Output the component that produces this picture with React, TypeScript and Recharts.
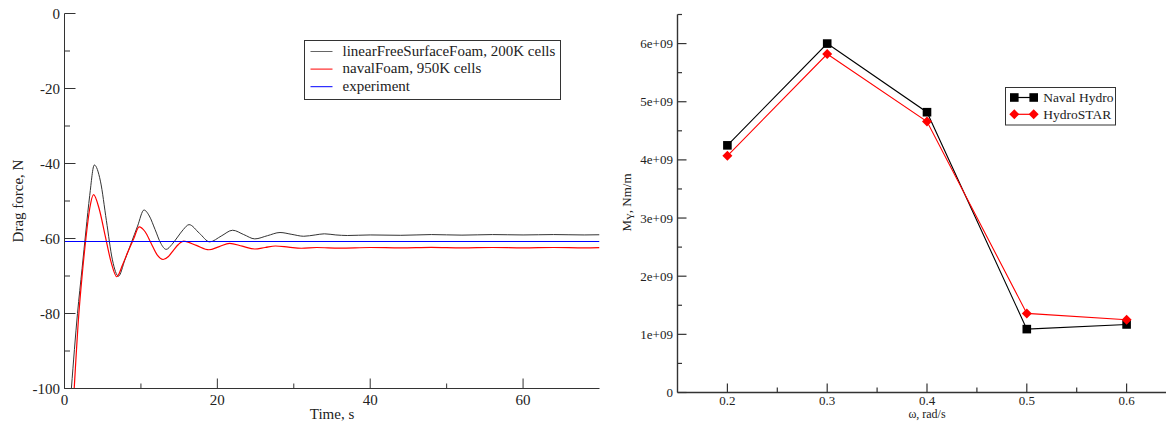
import React from 'react';
import { LineChart, Line, XAxis, YAxis, Legend } from 'recharts';

const FONT = '"Liberation Serif", "Times New Roman", serif';
const INK = '#222';

// ---------- Left panel: drag force vs time ----------
const blackTime = [0, 0.9, 1.7, 2.3, 2.8, 3.3, 3.9, 4.7, 5.48, 6.27, 7.06, 7.9, 8.73, 9.56, 10.4, 11.1, 11.85, 12.6, 13.3, 14.05, 14.8, 15.55, 16.3, 17.65, 19.0, 20.5, 22.0, 23.45, 24.9, 26.55, 28.2, 29.75, 31.3, 32.8, 34.0, 35.5, 37, 40, 44, 48, 52, 56, 60, 64, 68, 70];
const blackForce = [-125, -100, -80, -68, -58, -48.5, -40.4, -44.7, -55.2, -65.7, -70.05, -65.7, -61.2, -56.7, -52.4, -54.0, -57.6, -61.3, -62.9, -61.6, -59.6, -57.6, -56.3, -58.6, -60.9, -59.35, -57.8, -58.95, -60.1, -59.25, -58.4, -58.9, -59.4, -59.05, -58.75, -59.05, -59.2, -59.05, -59.15, -58.95, -59.1, -58.95, -59.05, -58.95, -59.05, -59.0];

const redTime = [0, 1.27, 1.88, 2.3, 2.8, 3.3, 3.8, 4.55, 5.32, 6.1, 6.85, 7.6, 8.3, 9.05, 9.76, 10.55, 11.33, 12.1, 12.9, 13.6, 14.25, 14.9, 15.6, 17.25, 18.9, 20.25, 21.6, 23.25, 24.9, 26.25, 27.6, 29.3, 31.0, 33, 36, 40, 44, 48, 52, 56, 60, 64, 68, 70];
const redForce = [-150, -100, -80, -70, -60, -52, -48.3, -52.2, -59.25, -66.3, -70.2, -67.0, -63.55, -60.1, -56.9, -58.2, -61.25, -64.3, -65.6, -64.8, -63.15, -61.6, -60.7, -61.85, -63.0, -62.15, -61.3, -62.05, -62.8, -62.4, -62.0, -62.3, -62.6, -62.4, -62.55, -62.4, -62.5, -62.35, -62.5, -62.4, -62.5, -62.4, -62.5, -62.45];

const expTime = [0, 70];
const expForce = [-60.8, -60.8];

const leftNames = ['linearFreeSurfaceFoam, 200K cells', 'navalFoam, 950K cells', 'experiment'];
const leftColors = ['#333333', '#ff0000', '#0000ff'];
const leftLegendSwatch = ['#666666', '#ff0000', '#0000ff'];

const leftXTicks = [0, 10, 20, 30, 40, 50, 60];
const leftXMajor = [0, 20, 40, 60];
const leftXLabels = ['0', '20', '40', '60'];
const leftYTicks = [-100, -90, -80, -70, -60, -50, -40, -30, -20, -10, 0];
const leftYMajor = [-100, -80, -60, -40, -20, 0];
const leftYLabels = ['-100', '-80', '-60', '-40', '-20', '0'];

// ---------- Right panel: M_Y vs omega ----------
const omega = [0.2, 0.3, 0.4, 0.5, 0.6];
const navalHydro = [4.25e9, 6.0e9, 4.82e9, 1.09e9, 1.17e9];
const hydroStar = [4.07e9, 5.82e9, 4.66e9, 1.36e9, 1.25e9];
const rightNames = ['Naval Hydro', 'HydroSTAR'];

const rightXTicks = [0.2, 0.25, 0.3, 0.35, 0.4, 0.45, 0.5, 0.55, 0.6, 0.65];
const rightXMajor = [0.2, 0.3, 0.4, 0.5, 0.6];
const rightXLabels = ['0.2', '0.3', '0.4', '0.5', '0.6'];
const rightYTicks = [0, 0.5e9, 1e9, 1.5e9, 2e9, 2.5e9, 3e9, 3.5e9, 4e9, 4.5e9, 5e9, 5.5e9, 6e9, 6.5e9];
const rightYMajor = [0, 1e9, 2e9, 3e9, 4e9, 5e9, 6e9];
const rightYLabels = ['0', '1e+09', '2e+09', '3e+09', '4e+09', '5e+09', '6e+09'];

const blackData = blackTime.map((t, i) => ({ t, f: blackForce[i] }));
const redData = redTime.map((t, i) => ({ t, f: redForce[i] }));
const expData = expTime.map((t, i) => ({ t, f: expForce[i] }));
const rightData = omega.map((w, i) => ({ w, naval: navalHydro[i], hydro: hydroStar[i] }));

type Side = 'bottom' | 'left' | 'top' | 'right';
interface TickCfg {
  side: Side;
  majors: number[];
  labels?: string[];
  majorLen: number;
  minorLen: number;
  fontSize: number;
  offset: number;
  shift: number;
  color: string;
  width: number;
}

const findIdx = (arr: number[], v: number) =>
  arr.findIndex((a) => Math.abs(a - v) <= 1e-9 * Math.max(1, Math.abs(a)));

function makeTick(cfg: TickCfg) {
  return (props: any) => {
    const { x, y, payload, index } = props;
    const idx = findIdx(cfg.majors, payload.value);
    const major = idx >= 0;
    const len = major ? cfg.majorLen : cfg.minorLen;
    const label = major && cfg.labels ? cfg.labels[idx] : null;
    const st = { stroke: cfg.color, strokeWidth: cfg.width };
    let ln: any = null;
    let tx: any = null;
    if (cfg.side === 'bottom') {
      ln = <line x1={x} y1={y} x2={x} y2={y - len} {...st} />;
      if (label !== null)
        tx = (
          <text x={x} y={y + cfg.offset} textAnchor="middle" fontFamily={FONT} fontSize={cfg.fontSize} fill={INK}>
            {label}
          </text>
        );
    } else if (cfg.side === 'top') {
      ln = <line x1={x} y1={y} x2={x} y2={y + len} {...st} />;
    } else if (cfg.side === 'left') {
      ln = <line x1={x} y1={y} x2={x + len} y2={y} {...st} />;
      if (label !== null)
        tx = (
          <text x={x - cfg.offset} y={y + cfg.shift} textAnchor="end" fontFamily={FONT} fontSize={cfg.fontSize} fill={INK}>
            {label}
          </text>
        );
    } else {
      ln = <line x1={x} y1={y} x2={x - len} y2={y} {...st} />;
    }
    return (
      <g key={`${cfg.side}-${index}`}>
        {ln}
        {tx}
      </g>
    );
  };
}

const LeftLegend = () => (
  <svg width={258} height={61} style={{ display: 'block' }}>
    <rect x={0.5} y={0.5} width={256} height={59} fill="#fff" stroke="#333" strokeWidth={1} />
    {leftNames.map((n, i) => (
      <g key={n}>
        <line x1={6.5} x2={28.5} y1={11.5 + i * 17.6} y2={11.5 + i * 17.6} stroke={leftLegendSwatch[i]} strokeWidth={1} />
        <text x={38.5} y={15.7 + i * 17.4} fontFamily={FONT} fontSize={15} fill={INK}>
          {n}
        </text>
      </g>
    ))}
  </svg>
);

const RightLegend = () => (
  <svg width={112} height={39} style={{ display: 'block' }}>
    <rect x={0.5} y={0.5} width={110} height={37.5} fill="#fff" stroke="#333" strokeWidth={1} />
    {rightNames.map((n, i) => {
      const cy = 10.5 + i * 16.8;
      const c = i === 0 ? '#000' : '#ff0000';
      const mk = (cx: number) =>
        i === 0 ? (
          <rect x={cx - 4.3} y={cy - 4.3} width={8.6} height={8.6} fill="#000" />
        ) : (
          <polygon points={`${cx},${cy - 5} ${cx + 5},${cy} ${cx},${cy + 5} ${cx - 5},${cy}`} fill="#ff0000" />
        );
      return (
        <g key={n}>
          <line x1={9.3} x2={28.7} y1={cy} y2={cy} stroke={c} strokeWidth={1.2} />
          {mk(9.3)}
          {mk(28.7)}
          <text x={38.3} y={cy + 4.3} fontFamily={FONT} fontSize={13.5} fill={INK}>
            {n}
          </text>
        </g>
      );
    })}
  </svg>
);

const SquareDot = (p: any) => (
  <rect key={`sq-${p.index}`} x={p.cx - 4.3} y={p.cy - 4.3} width={8.6} height={8.6} fill="#000" />
);
const DiamondDot = (p: any) => (
  <polygon
    key={`dm-${p.index}`}
    points={`${p.cx},${p.cy - 5} ${p.cx + 5},${p.cy} ${p.cx},${p.cy + 5} ${p.cx - 5},${p.cy}`}
    fill="#ff0000"
  />
);

export default function App() {
  const lc = '#333';
  return (
    <div
      style={{
        position: 'fixed',
        left: 0,
        top: 0,
        width: 1166,
        height: 421,
        overflow: 'hidden',
        background: '#fff',
      }}
    >
      {/* Left chart */}
      <div style={{ position: 'absolute', left: 0, top: 0 }}>
        <LineChart width={600} height={421} margin={{ top: 13.5, right: 0.5, bottom: 0.5, left: 0.5 }}>
          <XAxis
            xAxisId="b"
            type="number"
            dataKey="t"
            domain={[0, 70]}
            allowDataOverflow
            ticks={leftXTicks}
            interval={0}
            height={32}
            tickSize={0}
            tickMargin={0}
            tickLine={false}
            axisLine={{ stroke: lc, strokeWidth: 1 }}
            tick={makeTick({ side: 'bottom', majors: leftXMajor, labels: leftXLabels, majorLen: 10, minorLen: 5, fontSize: 15, offset: 16.5, shift: 0, color: lc, width: 1 })}
            label={(p: any) => {
              const vb = p.viewBox;
              return (
                <text x={vb.x + vb.width / 2} y={vb.y + 30} textAnchor="middle" fontFamily={FONT} fontSize={15} fill={INK}>
                  Time, s
                </text>
              );
            }}
          />
          <XAxis
            xAxisId="t"
            orientation="top"
            type="number"
            dataKey="t"
            domain={[0, 70]}
            allowDataOverflow
            ticks={leftXTicks}
            interval={0}
            height={0}
            tickSize={0}
            tickMargin={0}
            tickLine={false}
            axisLine={{ stroke: lc, strokeWidth: 1 }}
            tick={makeTick({ side: 'top', majors: leftXMajor, majorLen: 10, minorLen: 5, fontSize: 15, offset: 0, shift: 0, color: lc, width: 1 })}
          />
          <YAxis
            yAxisId="l"
            type="number"
            domain={[-100, 0]}
            allowDataOverflow
            ticks={leftYTicks}
            interval={0}
            width={64}
            tickSize={0}
            tickMargin={0}
            tickLine={false}
            axisLine={{ stroke: lc, strokeWidth: 1 }}
            tick={makeTick({ side: 'left', majors: leftYMajor, labels: leftYLabels, majorLen: 11, minorLen: 5.5, fontSize: 15, offset: 4.5, shift: 5.2, color: lc, width: 1 })}
            label={(p: any) => {
              const vb = p.viewBox;
              const cx = 23;
              const cy = vb.y + vb.height / 2;
              return (
                <text x={cx} y={cy} transform={`rotate(-90, ${cx}, ${cy})`} textAnchor="middle" fontFamily={FONT} fontSize={15} fill={INK}>
                  Drag force, N
                </text>
              );
            }}
          />
          <YAxis
            yAxisId="r"
            orientation="right"
            type="number"
            domain={[-100, 0]}
            allowDataOverflow
            ticks={leftYTicks}
            interval={0}
            width={0}
            tickSize={0}
            tickMargin={0}
            tickLine={false}
            axisLine={{ stroke: lc, strokeWidth: 1 }}
            tick={makeTick({ side: 'right', majors: leftYMajor, majorLen: 11, minorLen: 5.5, fontSize: 15, offset: 0, shift: 0, color: lc, width: 1 })}
          />
          <Line xAxisId="t" yAxisId="r" data={blackData} dataKey="f" stroke="none" dot={false} activeDot={false} legendType="none" isAnimationActive={false} />
          <Line xAxisId="b" yAxisId="l" data={blackData} dataKey="f" name={leftNames[0]} type="monotone" stroke={leftColors[0]} strokeWidth={1} dot={false} activeDot={false} isAnimationActive={false} />
          <Line xAxisId="b" yAxisId="l" data={redData} dataKey="f" name={leftNames[1]} type="monotone" stroke={leftColors[1]} strokeWidth={1.2} dot={false} activeDot={false} isAnimationActive={false} />
          <Line xAxisId="b" yAxisId="l" data={expData} dataKey="f" name={leftNames[2]} type="linear" stroke={leftColors[2]} strokeWidth={1} dot={false} activeDot={false} isAnimationActive={false} />
          <Legend
            layout="horizontal"
            verticalAlign="middle"
            align="center"
            content={() => <LeftLegend />}
            wrapperStyle={{ position: 'absolute', left: 304, top: 40, width: 258, height: 61 }}
          />
        </LineChart>
      </div>

      {/* Right chart */}
      <div style={{ position: 'absolute', left: 600, top: 0 }}>
        <LineChart width={600} height={421} data={rightData} margin={{ top: 14.5, right: 23.5, bottom: 0.5, left: 0.5 }}>
          <XAxis
            xAxisId="b"
            type="number"
            dataKey="w"
            domain={[0.15, 0.65]}
            allowDataOverflow
            ticks={rightXTicks}
            interval={0}
            height={28}
            tickSize={0}
            tickMargin={0}
            tickLine={false}
            axisLine={{ stroke: lc, strokeWidth: 1.4 }}
            tick={makeTick({ side: 'bottom', majors: rightXMajor, labels: rightXLabels, majorLen: 9, minorLen: 5, fontSize: 13, offset: 12.2, shift: 0, color: lc, width: 1.2 })}
            label={(p: any) => {
              const vb = p.viewBox;
              return (
                <text x={vb.x + vb.width / 2} y={vb.y + 25.6} textAnchor="middle" fontFamily={FONT} fontSize={12} fill={INK}>
                  ω, rad/s
                </text>
              );
            }}
          />
          <XAxis
            xAxisId="t"
            orientation="top"
            type="number"
            dataKey="w"
            domain={[0.15, 0.65]}
            allowDataOverflow
            ticks={rightXTicks}
            interval={0}
            height={0}
            tickSize={0}
            tickMargin={0}
            tickLine={false}
            axisLine={{ stroke: lc, strokeWidth: 1.4 }}
            tick={makeTick({ side: 'top', majors: rightXMajor, majorLen: 9, minorLen: 5, fontSize: 13, offset: 0, shift: 0, color: lc, width: 1.2 })}
          />
          <YAxis
            yAxisId="l"
            type="number"
            domain={[0, 6.5e9]}
            allowDataOverflow
            ticks={rightYTicks}
            interval={0}
            width={77}
            tickSize={0}
            tickMargin={0}
            tickLine={false}
            axisLine={{ stroke: lc, strokeWidth: 1.4 }}
            tick={makeTick({ side: 'left', majors: rightYMajor, labels: rightYLabels, majorLen: 9, minorLen: 4.5, fontSize: 13, offset: 4.6, shift: 4.5, color: lc, width: 1.2 })}
            label={(p: any) => {
              const vb = p.viewBox;
              const cx = 31;
              const cy = vb.y + vb.height / 2 - 1;
              return (
                <text x={cx} y={cy} transform={`rotate(-90, ${cx}, ${cy})`} textAnchor="middle" fontFamily={FONT} fontSize={13} fill={INK}>
                  M
                  <tspan dy={3} fontSize={9.5}>Y</tspan>
                  <tspan dy={-3}>, Nm/m</tspan>
                </text>
              );
            }}
          />
          <YAxis
            yAxisId="r"
            orientation="right"
            type="number"
            domain={[0, 6.5e9]}
            allowDataOverflow
            ticks={rightYTicks}
            interval={0}
            width={0}
            tickSize={0}
            tickMargin={0}
            tickLine={false}
            axisLine={{ stroke: lc, strokeWidth: 1.4 }}
            tick={makeTick({ side: 'right', majors: rightYMajor, majorLen: 9, minorLen: 4.5, fontSize: 13, offset: 0, shift: 0, color: lc, width: 1.2 })}
          />
          <Line xAxisId="t" yAxisId="r" dataKey="naval" stroke="none" dot={false} activeDot={false} legendType="none" isAnimationActive={false} />
          <Line xAxisId="b" yAxisId="l" dataKey="naval" name={rightNames[0]} type="linear" stroke="#000" strokeWidth={1.1} dot={SquareDot} activeDot={false} isAnimationActive={false} />
          <Line xAxisId="b" yAxisId="l" dataKey="hydro" name={rightNames[1]} type="linear" stroke="#ff0000" strokeWidth={1.1} dot={DiamondDot} activeDot={false} isAnimationActive={false} />
          <Legend
            layout="horizontal"
            verticalAlign="middle"
            align="center"
            content={() => <RightLegend />}
            wrapperStyle={{ position: 'absolute', left: 404.5, top: 87, width: 112, height: 39 }}
          />
        </LineChart>
      </div>
    </div>
  );
}
